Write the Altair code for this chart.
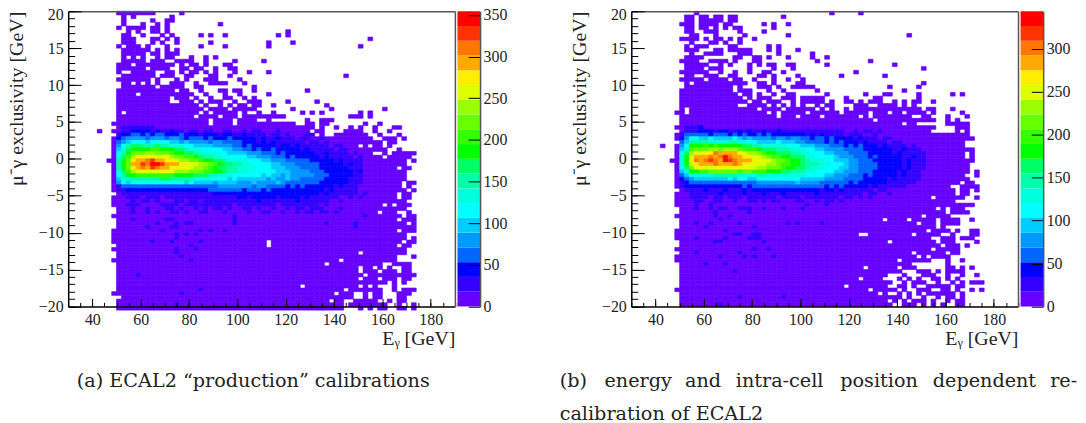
import re
import altair as alt
import pandas as pd

LEVELS = "abcdefghijklmnopqrst"
PALETTE = ["#6600ff", "#3300ff", "#0000ff", "#0066ff", "#0099ff", "#00ccff", "#00ffff", "#00ffdd",
           "#00ffaa", "#00ff66", "#00ff00", "#33ff00", "#66ff00", "#99ff00", "#ddff00", "#ffee00",
           "#ffaa00", "#ff7700", "#ff3300", "#ff0000"]
LEFT_MAX = 354.4
RIGHT_MAX = 343.7
X_MAJOR = [40, 60, 80, 100, 120, 140, 160, 180]
X_MINOR = [30, 35, 40, 45, 50, 55, 60, 65, 70, 75, 80, 85, 90, 95, 100, 105, 110, 115, 120, 125, 130, 135, 140, 145,
           150, 155, 160, 165, 170, 175, 180, 185, 190]
Y_MAJOR = [-20, -15, -10, -5, 0, 5, 10, 15, 20]
Y_MINOR = list(range(-20, 21))

# each row: "column:levels" tokens, level letters run-length coded, "." clears a cell
LEFT_ROWS = [
"10:a8 23:a",
"11:a 13:a 21:a",
"11:a 17:a 20:a2",
"11:a 15:a 18:a 20:a 31:a",
"10:a 12:a4 17:a2 20:a",
"12:a 14:a 17:a2 20:a 45:a",
"11:a2 15:a 19:a 21:a 27:a 29:a 32:a 45:a 43:a",
"11:a3 17:a2 20:a 22:a 62:a",
"11:a3 17:a 19:a 22:a 29:a 41:a 46:a",
"10:a 12:a3 16:a 20:a 27:a 32:a 41:a 60:a",
"11:a6 18:a 20:a 22:a",
"11:a5 17:a2 20:a3",
"11:a 13:a 15:a 18:a 20:a2 25:a 28:a 30:a",
"11:a3 14:a2 17:a2 19:a 22:a3 25:a 28:a 34:a 40:a",
"10:a3 14:a6 20:a2 23:a 25:a2 28:a 32:a2",
"10:a2 12:a3 15:a 17:a3 20:a 23:a2 26:a2 30:a 33:a2",
"10:a 13:a5 20:a2 23:a 25:a2 28:a 30:a 37:a 41:a 34:a",
"11:a7 19:a2 21:a 24:a2 29:a2 33:a 57:a",
"10:a7 16:a 18:a 22:a 24:a 28:a3 35:a",
"11:a2 14:a 16:a 18:a 21:a3 26:a 29:a3 32:a 36:a",
"11:a7 19:a4 23:a 26:a2 38:a",
"10:a12 23:a2 27:a 31:a2 34:a2 38:a 49:a",
"10:a4 15:a8 23:a2 25:a 28:a 32:a 35:a 41:a",
"10:a11 22:a3 26:a 29:a 32:a2 36:a 38:a",
"10:a11 23:a3 27:a 29:a3 34:a 37:a3 45:a 51:a",
"10:a13 23:a4 28:a 31:a 33:a 35:a2 38:a2 42:a 53:a",
"10:a14 24:a3 27:a 29:a4 34:a5 46:a 54:a 65:a",
"10:a 12:a14 26:a 28:a 30:a5 36:a 39:a 42:a 48:a 50:a 52:a 60:a 62:a",
"10:a15 25:a 27:a4 32:a3 36:a8 44:a 58:a2 60:a 62:a",
"10:a19 30:a4 35:a4 41:a 49:a 52:a3",
"9:a 10:a19 30:a4 35:a12 49:a2 52:a2 61:a 64:a",
"10:a39 49:a2 52:a 55:a 58:a 60:a 63:a 67:a2 11:b7",
"6:a 9:a 10:a40 51:a2 57:a4 63:a 66:a 10:ab2c4bcb2cb2ab2ab2a2b2a2bab2a3b",
"10:a41 52:a 55:a7 64:a 68:a 10:bccddcdcddcccdcccbcccbccbbcbbbbabbabaaabb",
"9:a 10:a53 65:a3 69:a 10:cdeeeedeeedeedcdddcdcccdcccccbcbbcbbbabbaaba",
"9:a 10:a55 66:a 67:a 10:defgggfggggffefeeeedeeddddcccbcbcbbbbbbabbabaaaaaaa",
"9:a 10:a55 66:a 10:egijjiiijiihhhggffffeeeeddcdcccccbccbcbbbbbbabbaaaa 60:. 62:.",
"9:a 10:a55 65:a 68:a 10:fhjkkkkllkkkjjihhhggggffeeddcdccdcccccbcbbbbbabbaaa",
"9:a 10:a53 65:a 67:a4 71:a 10:gikmmmnnmmmlkkjjihhhhggffffeeedddcdccccccbbcbbbbabaa",
"9:a 10:a61 10:hjlnppoooopnmmllkjiihhgggggffeeedddcdcccccbcbbbbbab 65:.",
"8:a 9:a 10:a60 71:a 10:ikmpqqrsqqpponnmmlkkjjihhhhgggffeeedddddcccccbcbbbb",
"9:a 10:a60 10:ikmqqsrttsqqqppoonnmlkjjiihhggggffeeedddddcccccbcbb",
"9:a 10:a58 69:a2 10:ikmpqrqsrqqppooonnmlkjjiihhhhgggfffeeeddddccccccbbb",
"9:a 10:a60 10:hjlnooooopoonnnmmmllkkjiihhhgggggfffeeeedddccccccbc",
"9:a 10:a60 10:gikkllllllllkkkkjjjiihhhggggggfgffefeeeeedddcccccbb",
"9:a 10:a60 10:fhhiiiiiijjiiiiihhhggggfgffffffefeefeedddddcccccbbb",
"9:a 10:a59 70:a2 10:egfgggggggggggfgffffeffffeeefeeeefedddddddccccccbbb",
"9:a 10:a59 70:a 10:bddddddddddddddddddddeeeeeeedeeddddcdcdccccccbcbbba",
"9:a 10:a60 71:a 10:bbcccccccccccccccccdddddddcdddcdcccccccccccbcbbbbb",
"10:a58 69:a2 10:abbbbbbbbbbbbbbbbbbbccccccccccccccccccccccbcbbbbbbab",
"9:a 10:a58 69:a2 10:aabbbabbbabbbbbbbbbbbbbbbccbcccccbccccbcbbbbbbaabab",
"9:a 10:a60 10:aaababbabaaabbabbabbbbbbbbbbbcbbbbbbbcbbbbbbaabaaaa",
"9:a 10:a57 68:a3 10:aabbbaaaabbbbabbbbbbbbbbabbbbbbbbabbbbbbbbabaaaa 65:.",
"10:a60 13:b 16:b 20:b2 23:b 26:b 28:b 30:b2 33:b 36:b2 39:b 42:b 45:b 47:b2 50:b2 52:b 56:b",
"10:a54 65:a3 70:a 13:b 16:b 18:b 21:b2 24:b 27:b 28:b 32:b 37:b 40:b2 44:b 47:b 49:b2 52:b2 55:b",
"9:a 10:a59 70:a2 34:b 61:b",
"10:a58 69:a3 13:b 20:b2 34:b",
"10:a60 71:a 18:b 22:b 24:b2 34:b 53:b 59:b",
"10:a62 16:b 21:b 22:b 59:b",
"9:a 10:a58 69:a3 19:b 27:b 29:b 32:b",
"9:a 10:a60 22:b 24:b 26:b",
"9:a 10:a60 71:a 22:b",
"9:a 10:a59 70:a2 17:b 21:b 27:b 41:.",
"10:a58 69:a2 25:b 41:.",
"9:a 10:a60 22:b 26:b",
"10:a60 22:b 60:.",
"10:a58 71:a 23:b",
"9:a 10:a59 56:. 68:. 25:b",
"10:a55 66:. 67:a4 53:.",
"10:a55 66:a 69:a2 60:. 63:.",
"10:a50 61:a3 65:a2 67:a 69:a2",
"10:a51 62:a5 67:a 68:a4 14:b",
"10:a50 61:a3 65:a2 67:a 69:a2",
"10:a56 67:a 69:a",
"10:a38 49:a11 61:a 63:a 67:a",
"10:a47 58:a7 67:a 69:a3 27:b",
"9:a 10:a45 56:a3 61:a 63:a2 68:a3 23:b",
"11:a48 61:a 63:a2 68:a2",
"10:a44 55:a2 59:a5 66:a 68:a2",
"10:a47 58:a8 68:a 71:a 22:b",
"10:a47 60:a 62:a 64:a2 68:a2 71:a",
]

RIGHT_ROWS = [
"13:a 41:a 47:a",
"11:a2 14:a2 17:a2 20:a2 31:a",
"11:a2 14:a3 17:a2 20:a2",
"10:a3 14:a4 19:a2 27:a 29:a 32:a",
"11:a2 14:a2 17:a 19:a 21:a2 29:a",
"11:a2 15:a3 22:a 27:a",
"12:a2 17:a 23:a 32:a 57:a",
"10:a4 15:a 17:a2 20:a 22:a 25:a",
"12:a 16:a2 19:a 22:a",
"11:a 13:a3 20:a2 28:a 30:a",
"11:a3 17:a2 20:a5 28:a 30:a 34:a",
"12:a 15:a4 22:a3 30:a 37:a",
"11:a4 21:a2 25:a2 28:a 32:a 37:a 40:a",
"10:a4 16:a4 21:a 25:a2 38:a 49:a",
"11:a5 18:a 20:a 24:a 26:a 28:a2 32:a2 40:a 54:a",
"11:a4 16:a3 24:a 29:a 33:a 60:a",
"10:a6 18:a 21:a 24:a 27:a2 31:a 46:a",
"11:a2 15:a3 20:a2 26:a2 29:a 34:a 43:a 52:a",
"10:a5 16:a4 19:a 21:a2 25:a 29:a 32:a 35:a",
"11:a 13:a8 21:a3 26:a2 29:a 34:a2 60:a",
"11:a10 22:a 26:a3 30:a 33:a3 36:a2 53:a 59:a",
"10:a4 14:a7 22:a3 28:a 31:a 38:a 56:a",
"10:a12 23:a2 26:a 29:a 32:a2 40:a 48:a 52:a2 59:a 66:a 68:a",
"10:a13 24:a 26:a3 31:a3 35:a5 44:a 50:a2 59:a",
"10:a14 25:a2 28:a3 33:a 35:a5 41:a 44:a2 47:a 49:a3 54:a 56:a 58:a2 62:a",
"10:a12 24:a4 29:a 31:a 33:a 35:a 38:a 40:a2 46:a3 51:a3 54:a 56:a 58:a",
"10:a 12:a14 27:a4 32:a6 39:a 41:a 44:a 46:a14 61:a2 66:a",
"9:a2 12:a16 29:a 31:a5 37:a6 44:a5 50:a3 54:a2 57:a4 62:a 68:a",
"10:a20 31:a3 35:a4 40:a7 48:a 50:a8 60:a2 65:a 69:a",
"10:a40 51:a12 65:a 67:a",
"10:a50 56:. 59:. 61:a 65:a5 61:.",
"9:a 10:a53 64:. 67:a2 68:a2 11:b4 14:c",
"10:a52 62:. 67:a 69:a 11:bbbcccbccbbcbcbbcbbcbbbbbbbbbbbbbaababbab",
"9:a 10:a60 10:bdddddcdddcdcdccdcdcccccccbcbcbbbbabbbaaba",
"9:a 10:a60 70:a 10:ceggffgffffgfefeeeedeedeeddcddcdccccbcbbbabbaa",
"10:a59 69:. 10:dfiiiihhhhiihhggffffgfffeeddddcdcdcccbcbbbbabbaaaaa",
"6:a 9:a 10:a59 10:egkkklklkkkkkjjiihhhhhgggfffeeedddcdcdcccbcbbbbabaa",
"9:a 10:a61 10:fhlmmmnnmnnnmlllkjjjiiihhhggffeeeeddddccccccbbcbbba",
"9:a 10:a61 69:. 10:gjnoopprqqqqoonnmlkkjjjiihhgggffeeeddddcccccbcbbbbb",
"9:a 10:a59 70:a 10:hkoqqqrqrtrqqppoonmllkkjjjhhggggfeeedddcdcccccbbcbb",
"8:a 9:a 10:a61 10:hkorqrsrqtsrqqqpooonmmlkkjihhhggfffeedddccccccbcbbb",
"9:a 10:a60 10:hkopqqqrqqqrqppooonnmllkkjiiihhgggfeeddddcccccbcbbb",
"9:a 10:a60 10:gjmopooopoopoooonnmmmlkkjjihhhgggffeeddddcccccbcbbb",
"9:a 10:a60 71:a 10:fhkkllmmmmmmlmmlllkkkjjiiihhggggffeeedddcccccbcbbba",
"9:a 10:a59 71:a 10:dfhhhhhiiiiihhhhiihhhhhhhhggggffeeedddcdcccccbcbbba",
"9:a 10:a60 10:cdefffffffgfggffgggggggggfffffeeeeddddcccccbcbbbbba",
"9:a 10:a58 69:a2 10:bcddddddddddddddeeeeeeeefeeeeddddddcdccccccbbbbbbaa",
"9:a 10:a57 68:a4 10:bccccccccccccdcdddddddddddddddcdcdcccccbcbbbbbbaaaa 66:.",
"10:a57 68:a2 71:a 10:abbbbcbbbcbbbcbccccccccccccccbccbcbbbbbbabbaaaaaaaa",
"9:a 10:a57 68:a2 10:aabbbbbbcbbbbcbbbcbbbcbbbbbbcbbbbbbbbbabbaabaaaaaaa",
"9:a 10:a57 67:a2 71:a 10:aabbbbabbabbbabbbbbbabbbbabbbbbbbabbababaaaa 62:.",
"9:a 10:a57 13:b 10:aaabbaabbaabaabbababbaaabbaababbabaaaa 13:b",
"9:a 10:a61 13:b 16:b 36:b 40:b",
"10:a59 13:b 16:b 18:b2 22:b3 27:b 31:b 35:b 63:. 65:.",
"10:a59 17:b 24:b 65:. 69:a",
"9:a 10:a56 17:b 20:b 60:. 66:.",
"10:a58 70:a 18:b 52:. 57:. 63:.",
"10:a58 13:b 16:b 22:b 32:b 34:b 39:b 59:. 63:.",
"10:a55 15:b 25:b 63:.",
"9:a 10:a58 19:b 61:. 66:. 70:a2",
"9:a 10:a57 22:b 21:b 25:b2 47:.2 58:. 64:.2 67:. 70:a2",
"9:a 10:a52 64:a3 68:a3 72:. 13:b 19:b 25:b2 24:b",
"10:a57 17:b2 27:b 53:. 63:. 71:a",
"10:a60 64:. 68:. 70:.2",
"9:a 10:a58 25:b 28:b 62:. 68:.",
"10:a55 13:b 22:b 58:. 66:a2",
"9:a 10:a56 18:b 23:b 25:b 29:b 59:. 61:.",
"9:a 10:a53 55:. 62:. 65:a 68:a",
"10:a47 57:a 15:b 19:b 65:a",
"10:a47 48:. 55:. 57:a2 65:a2 68:a 70:a",
"10:a46 21:b 55:a 59:a3 63:a 65:a2 67:a2",
"10:a43 53:. 55:. 56:a 60:a2 62:a 65:a 68:a 71:a",
"10:a37 47:. 48:a4 55:a 57:a 59:a 62:a2 65:a 67:a",
"10:a44 53:a 56:a 58:a3 63:a 66:a 68:a 70:a3",
"10:a34 45:a8 53:. 55:a2 58:a 61:a5 67:a2",
"9:a 10:a39 50:a5 56:a 59:a3 64:a2 67:a 70:a 72:a",
"10:a41 52:a 55:a 57:a 59:a 61:a6 68:a",
"10:a46 57:a 60:a 63:a 65:a2 68:a 22:b 31:b",
"10:a43 54:a 56:a 58:a3 62:a 65:a 67:a2",
"10:a44 56:a3 60:a 62:a 64:a 67:a2 18:b",
]

def decode(rows):
    records = []
    for r, row in enumerate(rows):
        cells = {}
        for token in row.split():
            if ":" not in token:
                continue
            start, body = token.split(":")
            c = int(start)
            for ch, n in re.findall(r"([a-t.])(\d*)", body):
                for _ in range(int(n) if n else 1):
                    if ch == ".":
                        cells.pop(c, None)
                    else:
                        cells[c] = LEVELS.index(ch) + 1
                    c += 1
        for c, lev in cells.items():
            records.append({"x0": 30 + 2 * c, "x1": 32 + 2 * c, "y0": 20 - 0.5 * r, "y1": 19.5 - 0.5 * r, "level": lev})
    return pd.DataFrame(records)

W = 388.7
H = 296.7
BAR_W = 22.7
GAP = 2.3
AFTER_BAR = 151.3
SERIF = "Liberation Serif"
CAPTION = "DejaVu Serif"
INK = "#222222"
GREY = "#555555"
TICK_FS = 16
TITLE_FS = 20
CAP_FS = 19.3
lev_dom = list(range(1, 21))
xs = alt.Scale(domain=[30, 190], nice=False, zero=False)
ys = alt.Scale(domain=[-20, 20], nice=False, zero=False)

def panel(rows, captions):
    df = decode(rows)
    heat = alt.Chart(df).mark_rect(strokeWidth=0.6).encode(
        x=alt.X("x0:Q", scale=xs, axis=alt.Axis(values=X_MAJOR, format="d", tickSize=0, grid=False, domainColor="black",
                domainWidth=1.5, labelFont=SERIF, labelFontSize=TICK_FS, labelColor=INK, labelPadding=5,
                title="Eᵧ [GeV]", titleFont=SERIF, titleFontSize=TITLE_FS, titleFontWeight="normal", titleColor=INK,
                titleAnchor="end", titlePadding=1, zindex=1)),
        x2="x1:Q",
        y=alt.Y("y0:Q", scale=ys, axis=alt.Axis(values=Y_MAJOR, format="d", tickSize=0, grid=False, domainColor="black",
                domainWidth=1.5, labelFont=SERIF, labelFontSize=TICK_FS, labelColor=INK, labelPadding=5,
                labelOffset=alt.expr("datum.value == 20 ? 3 : 0"),
                title="μ⁻γ exclusivity [GeV]", titleFont=SERIF, titleFontSize=TITLE_FS, titleFontWeight="normal", titleColor=INK,
                titleAnchor="end", titlePadding=12, zindex=1)),
        y2="y1:Q",
        color=alt.Color("level:O", scale=alt.Scale(domain=lev_dom, range=PALETTE), legend=None),
        stroke=alt.Stroke("level:O", scale=alt.Scale(domain=lev_dom, range=PALETTE), legend=None),
    )
    one = df.head(1)
    major = alt.Chart(one).mark_point(opacity=0).encode(
        x=alt.X("x0:Q", scale=xs, axis=alt.Axis(orient="top", offset=-H, values=X_MAJOR, labels=False, domain=False,
                tickSize=8, tickColor="black", tickWidth=1, grid=False, title=None, zindex=1)),
        y=alt.Y("y0:Q", scale=ys, axis=alt.Axis(orient="right", offset=-W, values=Y_MAJOR, labels=False, domain=False,
                tickSize=13, tickColor="black", tickWidth=1, grid=False, title=None, zindex=1)),
    )
    minor = alt.Chart(one).mark_point(opacity=0).encode(
        x=alt.X("x0:Q", scale=xs, axis=alt.Axis(orient="top", offset=-H, values=X_MINOR, labels=False, domain=False,
                tickSize=4, tickColor="black", tickWidth=1, grid=False, title=None, zindex=1)),
        y=alt.Y("y0:Q", scale=ys, axis=alt.Axis(orient="right", offset=-W, values=Y_MINOR, labels=False, domain=False,
                tickSize=6.5, tickColor="black", tickWidth=1, grid=False, title=None, zindex=1)),
    )
    frame = alt.Chart(one).mark_point(opacity=0).encode(
        x=alt.X("x0:Q", scale=xs, axis=alt.Axis(orient="top", values=[], labels=False, ticks=False, domainColor=GREY,
                domainWidth=1.5, grid=False, title=None, zindex=1)),
        y=alt.Y("y0:Q", scale=ys, axis=alt.Axis(orient="right", values=[], labels=False, ticks=False, domainColor=GREY,
                domainWidth=1.5, grid=False, title=None, zindex=1)),
    )
    layers = [heat, major, minor, frame]
    for text, px, py in captions:
        layers.append(alt.Chart(pd.DataFrame({"t": [text]})).mark_text(
            font=CAPTION, fontSize=CAP_FS, color=INK, align="left", baseline="alphabetic", clip=False
        ).encode(x=alt.value(px), y=alt.value(py), text="t:N"))
    return alt.layer(*layers).resolve_axis(x="independent", y="independent").properties(width=W, height=H)

def colorbar(vmax, ticks, total):
    step = vmax / 20
    bands = pd.DataFrame({"level": lev_dom, "lo": [i * step for i in range(20)], "hi": [(i + 1) * step for i in range(20)],
                          "left": [GAP] * 20, "right": [GAP + BAR_W] * 20})
    sc = alt.Scale(domain=[0, vmax], nice=False, zero=False)
    bx = alt.Scale(domain=[0, total], nice=False, zero=False)
    rect = alt.Chart(bands).mark_rect().encode(
        x=alt.X("left:Q", scale=bx, axis=None), x2="right:Q",
        y=alt.Y("lo:Q", scale=sc, axis=alt.Axis(orient="right", offset=-(total - GAP - BAR_W), values=ticks, format="d",
                tickSize=0, domain=False, grid=False,
                labelFont=SERIF, labelFontSize=TICK_FS, labelColor=INK, labelPadding=3, title=None, zindex=1)),
        y2="hi:Q",
        color=alt.Color("level:O", scale=alt.Scale(domain=lev_dom, range=PALETTE), legend=None),
    )
    tk = alt.Chart(bands.head(1)).mark_point(opacity=0).encode(
        x=alt.X("left:Q", scale=bx, axis=None),
        y=alt.Y("lo:Q", scale=sc, axis=alt.Axis(orient="left", offset=-(GAP + BAR_W), values=ticks, labels=False, tickSize=12,
                tickColor="black", domain=True, domainColor=GREY, domainWidth=1.5, grid=False, title=None, zindex=1)),
    )
    return alt.layer(rect, tk).resolve_axis(y="independent").properties(width=total, height=H)

panel_a = panel(LEFT_ROWS, [("(a) ECAL2 “production” calibrations", 8.7, 378)])
panel_b = panel(RIGHT_ROWS, [("(b)", -72, 378), ("energy", -27, 378), ("and", 54, 378),
                             ("intra-cell", 105, 378), ("position", 210, 378), ("dependent", 303, 378),
                             ("re-", 421, 378), ("calibration of ECAL2", -72, 410.5)])
bar_a = colorbar(LEFT_MAX, [0, 50, 100, 150, 200, 250, 300, 350], GAP + BAR_W + AFTER_BAR)
bar_b = colorbar(RIGHT_MAX, [0, 50, 100, 150, 200, 250, 300], GAP + BAR_W + 30)
chart = alt.hconcat(panel_a, bar_a, panel_b, bar_b, spacing=0, bounds="flush").properties(
    padding={"left": -2.5, "top": -3, "right": 0, "bottom": 79},
    background="white").configure_view(stroke=None)
chart.save("out.html", embed_options={"renderer": "svg", "actions": False})
